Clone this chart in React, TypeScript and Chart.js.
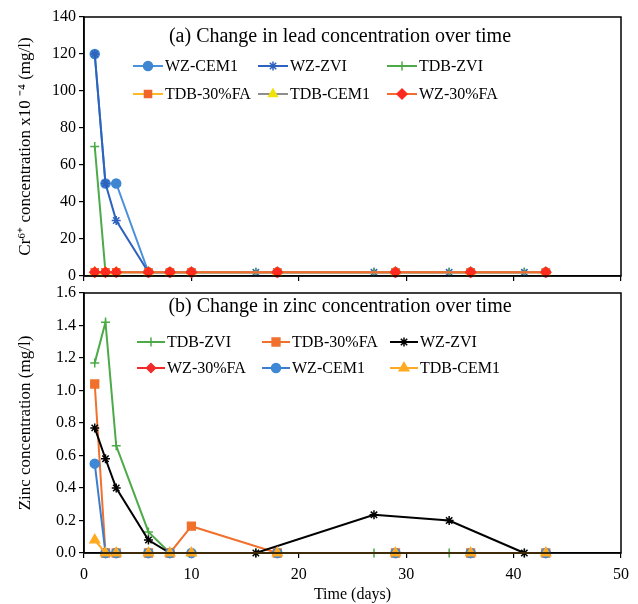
import React, { useEffect, useRef } from 'react';
import { Chart, registerables } from 'chart.js';
import { drawPoint } from 'chart.js/helpers';

Chart.register(...registerables);

// ---- Data ----
const DAYS_STD = [1, 2, 3, 6, 8, 10, 18, 29, 36, 43];
const DAYS_ZVI = [1, 2, 3, 6, 8, 16, 27, 34, 41];

const X_TICKS = [0, 10, 20, 30, 40, 50];

// (a) lead / Cr6+ concentration x10^-4 (mg/l)
const LEAD_NAMES = ['WZ-CEM1', 'WZ-ZVI', 'TDB-ZVI', 'TDB-30%FA', 'TDB-CEM1', 'WZ-30%FA'];
const LEAD_WZ_CEM1 = [120, 50, 50, 2, 2, 2, 2, 2, 2, 2];
const LEAD_WZ_ZVI = [120, 50, 30, 2, 2, 2, 2, 2, 2];
const LEAD_TDB_ZVI = [70, 2, 2, 2, 2, 2, 2, 2, 2];
const LEAD_TDB_30FA = [2, 2, 2, 2, 2, 2, 2, 2, 2, 2];
const LEAD_TDB_CEM1 = [2, 2, 2, 2, 2, 2, 2, 2, 2, 2];
const LEAD_WZ_30FA = [2, 2, 2, 2, 2, 2, 2, 2, 2, 2];

// (b) zinc concentration (mg/l)
const ZINC_NAMES = ['TDB-ZVI', 'TDB-30%FA', 'WZ-ZVI', 'WZ-30%FA', 'WZ-CEM1', 'TDB-CEM1'];
const ZINC_TDB_ZVI = [1.17, 1.42, 0.66, 0.13, 0, 0, 0, 0, 0];
const ZINC_TDB_30FA = [1.04, 0, 0, 0, 0, 0.165, 0, 0, 0, 0];
const ZINC_WZ_ZVI = [0.77, 0.58, 0.4, 0.08, 0, 0, 0.235, 0.2, 0];
const ZINC_WZ_30FA = [null, 0, 0, 0, 0, 0, 0, 0, 0, 0];
const ZINC_WZ_CEM1 = [0.55, 0, 0, 0, 0, 0, 0, 0, 0, 0];
const ZINC_TDB_CEM1 = [0.08, 0, 0, 0, 0, 0, 0, 0, 0, 0];

const FONT = '"Liberation Serif", "Times New Roman", serif';

type Style = { line: string; fill: string; stroke: string; point: string; r: number };

const LEAD_SERIES: [number[], (number | null)[], Style][] = [
  [DAYS_STD, LEAD_WZ_CEM1, { line: '#4A90DA', fill: '#3F86D2', stroke: '#3F86D2', point: 'circle', r: 4.5 }],
  [DAYS_ZVI, LEAD_WZ_ZVI, { line: '#2E62BC', fill: '#2E62BC', stroke: '#2E62BC', point: 'star', r: 4.5 }],
  [DAYS_ZVI, LEAD_TDB_ZVI, { line: '#4CAA48', fill: '#4CAA48', stroke: '#4CAA48', point: 'cross', r: 4.5 }],
  [DAYS_STD, LEAD_TDB_30FA, { line: '#FFBA22', fill: '#F0652A', stroke: '#F0652A', point: 'rect', r: 5 }],
  [DAYS_STD, LEAD_TDB_CEM1, { line: '#8E8E8E', fill: '#F2E20A', stroke: '#F2E20A', point: 'triangle', r: 5 }],
  [DAYS_STD, LEAD_WZ_30FA, { line: '#F56B2C', fill: '#FF2A1E', stroke: '#FF2A1E', point: 'rectRot', r: 5 }],
];

const ZINC_SERIES: [number[], (number | null)[], Style][] = [
  [DAYS_ZVI, ZINC_TDB_ZVI, { line: '#4CAA48', fill: '#4CAA48', stroke: '#4CAA48', point: 'cross', r: 4.5 }],
  [DAYS_STD, ZINC_TDB_30FA, { line: '#F0702C', fill: '#F0702C', stroke: '#F0702C', point: 'rect', r: 5.5 }],
  [DAYS_ZVI, ZINC_WZ_ZVI, { line: '#000000', fill: '#000000', stroke: '#000000', point: 'star', r: 4.5 }],
  [DAYS_STD, ZINC_WZ_30FA, { line: '#F22A2A', fill: '#F22A2A', stroke: '#F22A2A', point: 'rectRot', r: 4.5 }],
  [DAYS_STD, ZINC_WZ_CEM1, { line: '#3A7ED0', fill: '#3F88D6', stroke: '#3F88D6', point: 'circle', r: 4.5 }],
  [DAYS_STD, ZINC_TDB_CEM1, { line: '#FFAA20', fill: '#FFAA20', stroke: '#FFAA20', point: 'triangle', r: 5.5 }],
];

function buildDatasets(names: string[], series: [number[], (number | null)[], Style][]) {
  return series.map(([days, vals, s], i) => ({
    label: names[i],
    data: days.map((d, k) => ({ x: d, y: vals[k] })),
    borderColor: s.line,
    backgroundColor: s.fill,
    borderWidth: 2,
    pointStyle: s.point,
    pointRadius: s.r,
    pointBackgroundColor: s.fill,
    pointBorderColor: s.stroke,
    pointBorderWidth: 1.5,
    tension: 0,
    clip: false,
    spanGaps: false,
    order: -i,
  }));
}

const panelPlugin = {
  id: 'panel',
  afterDraw(chart: any, _args: any, opts: any) {
    const { ctx, chartArea: a } = chart;
    ctx.save();
    ctx.strokeStyle = '#000';
    ctx.lineWidth = 1.5;
    ctx.strokeRect(a.left, a.top, a.right - a.left, a.bottom - a.top);
    ctx.fillStyle = '#000';
    ctx.font = `${opts.titleSize}px ${FONT}`;
    ctx.textAlign = 'center';
    ctx.textBaseline = 'middle';
    ctx.fillText(opts.title, opts.titleX, opts.titleY);
    // legend
    ctx.font = `${opts.legendSize}px ${FONT}`;
    ctx.textAlign = 'left';
    chart.data.datasets.forEach((ds: any, i: number) => {
      const col = i % 3;
      const row = Math.floor(i / 3);
      const x0 = opts.cols[col];
      const y = opts.rows[row];
      const len = opts.lineLen;
      ctx.strokeStyle = ds.borderColor;
      ctx.lineWidth = 2;
      ctx.beginPath();
      ctx.moveTo(x0, y);
      ctx.lineTo(x0 + len, y);
      ctx.stroke();
      ctx.fillStyle = ds.pointBackgroundColor;
      ctx.strokeStyle = ds.pointBorderColor;
      ctx.lineWidth = 1.5;
      drawPoint(ctx, { pointStyle: ds.pointStyle, radius: ds.pointRadius, rotation: 0, borderWidth: 1.5 } as any, x0 + len / 2, y);
      ctx.fillStyle = '#000';
      ctx.fillText(ds.label, x0 + len + 2, y + 1);
    });
    ctx.restore();
  },
};

function makeOptions(cfg: {
  yMin: number; yMax: number; yStep: number; yTitle: string; yDigits: number;
  showXLabels: boolean; xHeight: number; padTop: number; panel: any;
}) {
  return {
    responsive: false,
    animation: false as const,
    layout: { padding: { top: cfg.padTop, right: 17, left: 0, bottom: 0 } },
    plugins: {
      legend: { display: false },
      tooltip: { enabled: false },
      panel: cfg.panel,
    },
    scales: {
      x: {
        type: 'linear' as const,
        min: 0,
        max: 50,
        afterBuildTicks: (scale: any) => { scale.ticks = X_TICKS.map((v) => ({ value: v })); },
        afterFit: (scale: any) => {
          scale.height = cfg.xHeight;
          scale.paddingLeft = 0;
          scale.paddingRight = 0;
        },
        grid: { drawOnChartArea: false, drawTicks: true, tickLength: 5, color: '#000', lineWidth: 1.2 },
        border: { display: true, color: '#000', width: 1.5 },
        ticks: {
          display: cfg.showXLabels,
          color: '#000',
          padding: 7,
          maxRotation: 0,
          font: { family: FONT, size: 16 },
          callback: (v: any) => String(v),
        },
        title: {
          display: cfg.showXLabels,
          text: 'Time (days)',
          color: '#000',
          font: { family: FONT, size: 16 },
          padding: { top: 0, bottom: 0 },
        },
      },
      y: {
        type: 'linear' as const,
        min: cfg.yMin,
        max: cfg.yMax,
        afterFit: (scale: any) => {
          scale.width = 84;
          scale.paddingTop = 0;
          scale.paddingBottom = 0;
        },
        grid: { drawOnChartArea: false, drawTicks: true, tickLength: 5, color: '#000', lineWidth: 1.2 },
        border: { display: true, color: '#000', width: 1.5 },
        ticks: {
          stepSize: cfg.yStep,
          color: '#000',
          padding: 3,
          font: { family: FONT, size: 16 },
          callback: (v: any) => Number(v).toFixed(cfg.yDigits),
        },
        title: {
          display: true,
          text: cfg.yTitle,
          color: '#000',
          font: { family: FONT, size: 17 },
          padding: { top: 15, bottom: 0 },
        },
      },
    },
  };
}

export default function App() {
  const topRef = useRef<HTMLCanvasElement>(null);
  const botRef = useRef<HTMLCanvasElement>(null);

  useEffect(() => {
    const top = new Chart(topRef.current as HTMLCanvasElement, {
      type: 'line',
      data: { datasets: buildDatasets(LEAD_NAMES, LEAD_SERIES) as any },
      options: makeOptions({
        yMin: 0, yMax: 140, yStep: 20, yDigits: 0,
        yTitle: 'Cr⁶⁺ concentration x10 ⁻⁴ (mg/l)',
        showXLabels: false, xHeight: 8, padTop: 17,
        panel: {
          title: '(a) Change in lead concentration over time',
          titleX: 340, titleY: 37, titleSize: 20,
          legendSize: 16, cols: [133, 258, 387], rows: [66, 94], lineLen: 30,
        },
      }) as any,
      plugins: [panelPlugin],
    });
    const bot = new Chart(botRef.current as HTMLCanvasElement, {
      type: 'line',
      data: { datasets: buildDatasets(ZINC_NAMES, ZINC_SERIES) as any },
      options: makeOptions({
        yMin: 0, yMax: 1.6, yStep: 0.2, yDigits: 1,
        yTitle: 'Zinc concentration (mg/l)',
        showXLabels: true, xHeight: 51, padTop: 9,
        panel: {
          title: '(b) Change in zinc concentration over time',
          titleX: 340, titleY: 23, titleSize: 20,
          legendSize: 16, cols: [137, 262, 390], rows: [58, 84], lineLen: 28,
        },
      }) as any,
      plugins: [panelPlugin],
    });
    return () => { top.destroy(); bot.destroy(); };
  }, []);

  return (
    <div style={{ position: 'absolute', left: 0, top: 0, width: 638, height: 604, background: '#fff' }}>
      <canvas ref={topRef} width={638} height={284} style={{ position: 'absolute', left: 0, top: 0, display: 'block' }} />
      <canvas ref={botRef} width={638} height={320} style={{ position: 'absolute', left: 0, top: 284, display: 'block' }} />
    </div>
  );
}
